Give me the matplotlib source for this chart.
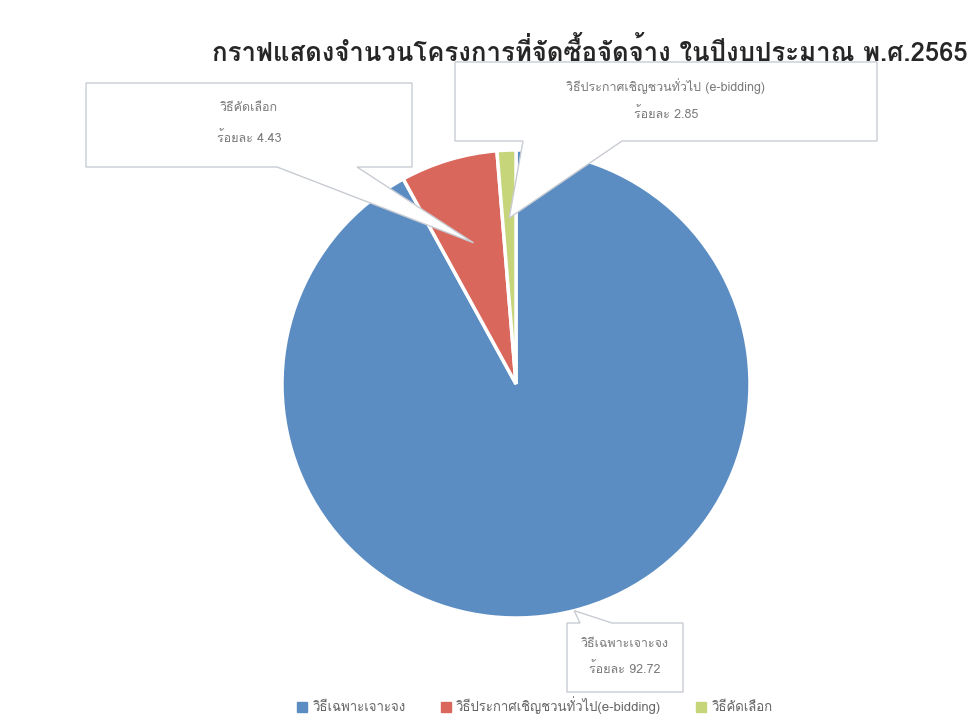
import numpy as np
import matplotlib
matplotlib.use('Agg')
import matplotlib.pyplot as plt
from matplotlib import font_manager, ft2font
from matplotlib.patches import Polygon

# find an installed font that has Thai glyphs
thai_font = None
for f in font_manager.fontManager.ttflist:
    try:
        if 0x0E01 in ft2font.FT2Font(f.fname).get_charmap():
            thai_font = f.name
            break
    except Exception:
        pass
fams = ([thai_font] if thai_font else []) + ['DejaVu Sans']
plt.rcParams['font.family'] = fams

title = 'กราฟแสดงจำนวนโครงการที่จัดซื้อจัดจ้าง ในปีงบประมาณ พ.ศ.2565'
methods = ['วิธีเฉพาะเจาะจง', 'วิธีประกาศเชิญชวนทั่วไป(e-bidding)', 'วิธีคัดเลือก']
shares = [92.0, 6.7, 1.3]          # slice sizes as drawn
callout_names = ['วิธีเฉพาะเจาะจง', 'วิธีคัดเลือก', 'วิธีประกาศเชิญชวนทั่วไป (e-bidding)']
callout_pct = ['92.72', '4.43', '2.85']
colors = ['#5b8dc3', '#d9675b', '#c6d47a']

W, H = 971, 727
fig = plt.figure(figsize=(W / 100, H / 100), dpi=100)
ax = fig.add_axes([0, 0, 1, 1])

cx, cy, R = 516, H - 384, 234
wedges, _ = ax.pie(shares, colors=colors, startangle=90, counterclock=False,
                   center=(cx, cy), radius=R,
                   wedgeprops=dict(edgecolor='white', linewidth=2.5))
ax.set_xlim(0, W)
ax.set_ylim(0, H)
ax.set_aspect('auto')
ax.axis('off')

# callout boxes: (x0, top, x1, bottom, base_a, base_b, tip_frac, side)
boxes = [
    (567, 623, 683, 692, 580, 612, 1.0, 'top'),
    (86, 83, 412, 167, 277, 357, 0.63, 'bottom'),
    (455, 62, 877, 141, 523, 622, 0.71, 'bottom'),
]
for w, name, pct, (x0, t, x1, b, ba, bb, fr, side) in zip(wedges, callout_names, callout_pct, boxes):
    mid = np.deg2rad((w.theta1 + w.theta2) / 2)
    tip = (cx + fr * R * np.cos(mid), cy + fr * R * np.sin(mid))
    yt, yb = H - t, H - b
    if side == 'bottom':
        pts = [(x0, yt), (x1, yt), (x1, yb), (bb, yb), tip, (ba, yb), (x0, yb)]
    else:
        pts = [(x0, yt), (ba, yt), tip, (bb, yt), (x1, yt), (x1, yb), (x0, yb)]
    ax.add_patch(Polygon(pts, closed=True, facecolor='white', edgecolor='#c8ccd2',
                         linewidth=1.0, zorder=3))
    xc = (x0 + x1) / 2
    ax.text(xc, yt - (yt - yb) * 0.30, name, ha='center', va='center',
            fontsize=9, color='#7a7a7a', zorder=4)
    ax.text(xc, yt - (yt - yb) * 0.66, 'ร้อยละ ' + pct, ha='center', va='center',
            fontsize=9, color='#7a7a7a', zorder=4)

ax.text(590, H - 52, title, ha='center', va='center', fontsize=18.5,
        fontweight='bold', color='#262626', zorder=5)

handles = [plt.Line2D([], [], marker='s', linestyle='', markersize=7,
                      markerfacecolor=c, markeredgecolor=c) for c in colors]
fig.legend(handles, methods, loc='center', bbox_to_anchor=(0.550, 0.03), ncol=3,
           frameon=False, fontsize=9.5, labelcolor='#666666', handletextpad=0.3,
           columnspacing=2.5, handlelength=1.0)

fig.savefig('out.png', dpi=100, facecolor='white')
